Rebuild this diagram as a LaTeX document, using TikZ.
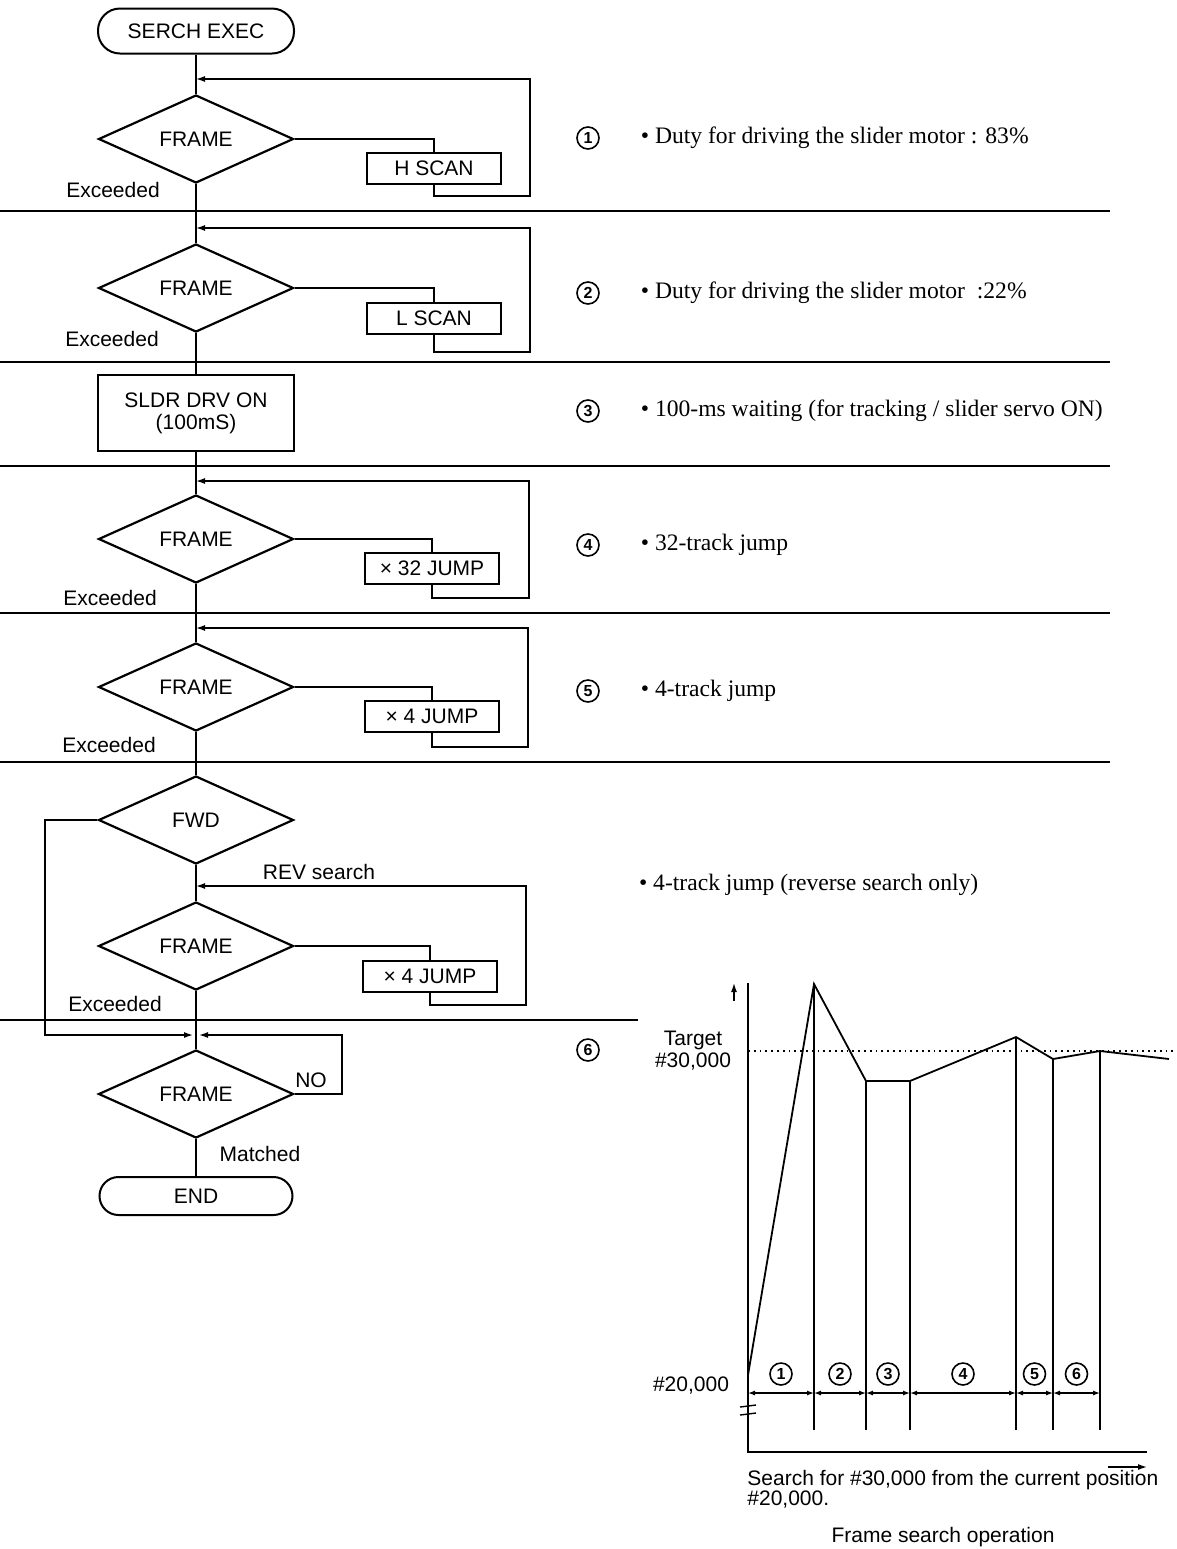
\documentclass[tikz,border=0pt]{standalone}
\usepackage{fontspec}
\setmainfont{Liberation Serif}
\setsansfont{Liberation Sans}
\usetikzlibrary{shapes.geometric, arrows.meta, positioning}

\begin{document}
\begin{tikzpicture}[x=0.5pt, y=-0.5pt,
        font = \sffamily\fontsize{10.5}{11}\selectfont,
        terminal/.style = {
            rectangle,
            draw,
            line width=1pt,
            rounded corners=11pt,
            minimum width=98pt,
            minimum height=22.5pt
        },
        decision/.style = {
            diamond,
            draw,
            line width=1.1pt,
            inner sep=0pt,
            minimum width=97.5pt,
            minimum height=44pt
        },
        process/.style = {
            rectangle,
            draw,
            line width=1pt,
            inner sep=0pt,
            minimum width=67pt,
            minimum height=15.5pt
        },
        num/.style = {
            circle,
            draw,
            line width=0.8pt,
            inner sep=0pt,
            minimum size=11pt,
            font = \sffamily\bfseries\fontsize{8}{8}\selectfont
        },
        note/.style = {font = \rmfamily\fontsize{11.8}{13}\selectfont},
        flow/.style = {line width=0.7pt},
        back/.style = {line width=0.7pt, -{Latex[length=4.5pt, width=3pt]}},
        dim/.style = {line width=0.6pt, {Latex[length=3.5pt, width=2.5pt]}-{Latex[length=3.5pt, width=2.5pt]}},
        sep/.style = {line width=0.8pt}
    ]
    \useasboundingbox (0,0) rectangle (1177,1549);

    % flowchart
    \node (start) [terminal] at (196,31) {SERCH EXEC};
    \coordinate (ret1) at (196,79);
    \node (frame1) [decision] at (196,139) {FRAME};
    \node (hscan) [process] at (434,168) {H SCAN};
    \coordinate (turn1) at (530,196);
    \node (exc1) at (113,190) {Exceeded};

    \coordinate (ret2) at (196,228);
    \node (frame2) [decision] at (196,288) {FRAME};
    \node (lscan) [process] at (434,318) {L SCAN};
    \coordinate (turn2) at (530,352);
    \node (exc2) at (112,339) {Exceeded};

    \node (sldr) [process, align=center, minimum width=98pt, minimum height=38pt] at (196,413)
        {SLDR DRV ON\\(100mS)};

    \coordinate (ret4) at (196,481);
    \node (frame4) [decision] at (196,539) {FRAME};
    \node (jump32) [process] at (432,568) {× 32 JUMP};
    \coordinate (turn4) at (529,598);
    \node (exc4) at (110,598) {Exceeded};

    \coordinate (ret5) at (196,628);
    \node (frame5) [decision] at (196,687) {FRAME};
    \node (jump4) [process] at (432,716) {× 4 JUMP};
    \coordinate (turn5) at (528,747);
    \node (exc5) at (109,745) {Exceeded};

    \node (fwd) [decision] at (196,820) {FWD};
    \coordinate (fwd_turn) at (45,1035);
    \coordinate (ret6) at (196,886);
    \node (rev) at (319,872) {REV search};
    \node (frame6) [decision] at (196,946) {FRAME};
    \node (jump4rev) [process] at (430,976) {× 4 JUMP};
    \coordinate (turn6) at (526,1005);
    \node (exc6) at (115,1004) {Exceeded};

    \coordinate (join) at (196,1035);
    \coordinate (no_turn) at (342,1035);
    \node (frame7) [decision] at (196,1094) {FRAME};
    \node (no) at (311,1080) {NO};
    \node (matched) at (260,1154) {Matched};
    \node (end) [terminal, minimum width=96.5pt, minimum height=19pt, rounded corners=9.5pt] at (196,1196) {END};

    \draw[flow] (start) -- (frame1);
    \draw[flow] (frame1.east) -| (hscan.north);
    \draw[back] (hscan.south) |- (turn1) |- (ret1);
    \draw[flow] (frame1) -- (frame2);
    \draw[flow] (frame2.east) -| (lscan.north);
    \draw[back] (lscan.south) |- (turn2) |- (ret2);
    \draw[flow] (frame2) -- (sldr);
    \draw[flow] (sldr) -- (frame4);
    \draw[flow] (frame4.east) -| (jump32.north);
    \draw[back] (jump32.south) |- (turn4) |- (ret4);
    \draw[flow] (frame4) -- (frame5);
    \draw[flow] (frame5.east) -| (jump4.north);
    \draw[back] (jump4.south) |- (turn5) |- (ret5);
    \draw[flow] (frame5) -- (fwd);
    \draw[flow] (fwd) -- (frame6);
    \draw[flow] (frame6.east) -| (jump4rev.north);
    \draw[back] (jump4rev.south) |- (turn6) |- (ret6);
    \draw[back, shorten >=1.5pt] (fwd.west) -| (fwd_turn) -- (join);
    \draw[flow] (frame6) -- (frame7);
    \draw[back, shorten >=1.5pt] (frame7.east) -| (no_turn) -- (join);
    \draw[flow] (frame7) -- (end);

    \foreach \y in {211,362,466,613,762}
        \draw[sep] (0,\y) -- (1110,\y);
    \draw[sep] (0,1020) -- (638,1020);

    % steps
    \foreach \n/\y in {1/138,2/293,3/411,4/545,5/691,6/1050}
        \node (step\n) [num] at (588,\y) {\n};
    \node (note1) [note, right=17pt of step1] {\textbullet~Duty for driving the slider motor : 83\%};
    \node (note2) [note, right=17pt of step2] {\textbullet~Duty for driving the slider motor~~:22\%};
    \node (note3) [note, right=17pt of step3] {\textbullet~100-ms waiting (for tracking / slider servo ON)};
    \node (note4) [note, right=17pt of step4] {\textbullet~32-track jump};
    \node (note5) [note, right=17pt of step5] {\textbullet~4-track jump};
    \node (note6) [note, anchor=west] at (632,885) {\textbullet~4-track jump (reverse search only)};

    % graph
    \draw[line width=0.8pt] (748,983) -- (748,1452) -- (1147,1452);
    \draw[line width=0.7pt] (740,1407) -- (756,1405);
    \draw[line width=0.7pt] (740,1415) -- (756,1413);
    \draw[back] (734,1001) -- (734,983);
    \draw[back] (1108,1467) -- (1147,1467);
    \draw[dotted, line width=0.9pt] (748,1051) -- (1177,1051);
    \draw[line width=0.9pt] (748,1375) -- (814,984) -- (866,1081) -- (910,1081)
        -- (1016,1037) -- (1053,1059) -- (1100,1051) -- (1169,1059);
    \foreach \x/\y in {814/984, 866/1081, 910/1081, 1016/1037, 1053/1059, 1100/1051}
        \draw[line width=0.6pt] (\x,\y) -- (\x,1430);
    \foreach \a/\b/\n in {748/814/1, 814/866/2, 866/910/3, 910/1016/4, 1016/1053/5, 1053/1100/6} {
        \draw[dim] (\a,1393) -- (\b,1393);
        \node (seg\n) [num] at ({(\a+\b)/2},1374) {\n};
    }
    \node (target) [align=center] at (693,1051) {Target\\\#30,000};
    \node (origin) at (691,1385) {\#20,000};
    \node (caption) [anchor=north west, align=left, inner sep=0pt, font=\sffamily\fontsize{10.5}{10}\selectfont] at (747,1470)
        {Search for \#30,000 from the current position\\\#20,000.};
    \node (title) at (943,1537) {Frame search operation};
\end{tikzpicture}
\end{document}
